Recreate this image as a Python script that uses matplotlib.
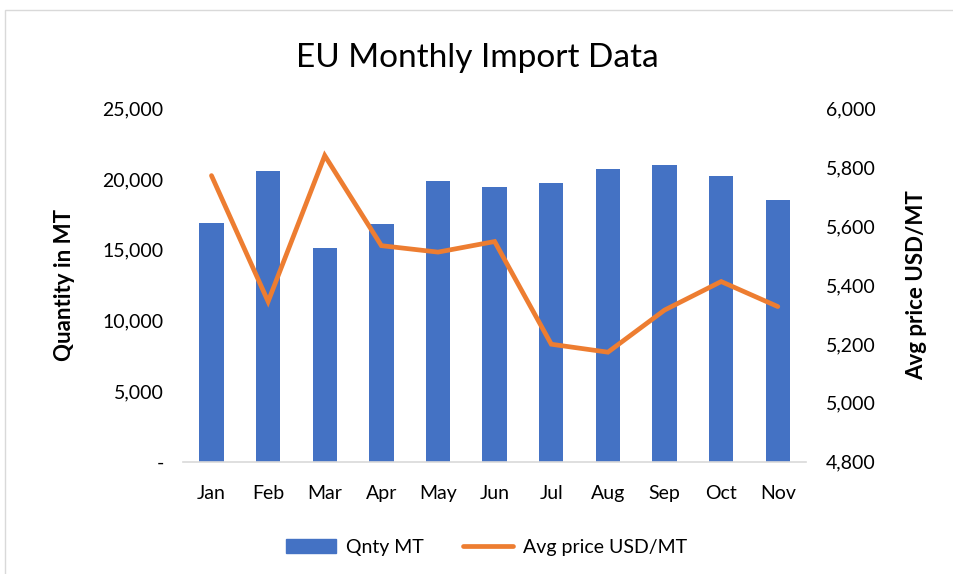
#!/usr/bin/env python

import matplotlib.pyplot as plt
from matplotlib.patches import Rectangle
from matplotlib.lines import Line2D

plt.rcParams['font.family'] = ['Lato', 'DejaVu Sans']

# Data
months = ["Jan", "Feb", "Mar", "Apr", "May", "Jun", "Jul", "Aug", "Sep", "Oct", "Nov"]
qnty_mt = [16900, 20600, 15100, 16800, 19900, 19450, 19700, 20700, 21000, 20200, 18550]
avg_price = [5772, 5344, 5840, 5534, 5512, 5548, 5199, 5172, 5315, 5412, 5327]

left_ticks = [0, 5000, 10000, 15000, 20000, 25000]
left_labels = ["-", "5,000", "10,000", "15,000", "20,000", "25,000"]
right_ticks = [4800, 5000, 5200, 5400, 5600, 5800, 6000]
right_labels = ["4,800", "5,000", "5,200", "5,400", "5,600", "5,800", "6,000"]

bar_color = "#4472C4"
line_color = "#ED7D31"
text_color = "#000000"

fig = plt.figure(figsize=(9.54, 5.74), dpi=100)
ax = fig.add_axes([0.192, 0.1957, 0.653, 0.6153])

# chart border like the office frame
fig.patches.append(Rectangle((5 / 954, -0.01), 1.0, 1 - 10 / 574 + 0.01,
                             transform=fig.transFigure, fill=False,
                             edgecolor="#d9d9d9", linewidth=1.0))

x = list(range(len(months)))
ax.bar(x, qnty_mt, width=0.43, color=bar_color, zorder=2)
ax.set_xlim(-0.5, len(months) - 0.5)
ax.set_ylim(0, 25000)
ax.set_yticks(left_ticks)
ax.set_yticklabels(left_labels)
ax.set_xticks(x)
ax.set_xticklabels(months)
ax.tick_params(axis='both', length=0, labelsize=14, colors=text_color)
ax.tick_params(axis='y', pad=14)
ax.tick_params(axis='x', pad=17)
for s in ['top', 'right', 'left']:
    ax.spines[s].set_visible(False)
ax.spines['bottom'].set_color("#d9d9d9")
ax.spines['bottom'].set_linewidth(1.2)
ax.set_ylabel("Quantity in MT", fontsize=16, fontweight='bold', labelpad=20)

ax2 = ax.twinx()
ax2.plot(x, avg_price, color=line_color, linewidth=3.4, solid_capstyle='round',
         solid_joinstyle='miter', zorder=3)
ax2.set_ylim(4800, 6000)
ax2.set_yticks(right_ticks)
ax2.set_yticklabels(right_labels)
ax2.tick_params(axis='y', length=0, labelsize=14, pad=14, colors=text_color)
for s in ['top', 'right', 'left', 'bottom']:
    ax2.spines[s].set_visible(False)
ax2.set_ylabel("Avg price USD/MT", fontsize=16, fontweight='bold', labelpad=22)

fig.suptitle("EU Monthly Import Data", fontsize=24, y=0.925)

handles = [Rectangle((0, 0), 1, 1, color=bar_color),
           Line2D([0], [0], color=line_color, linewidth=3.4, solid_capstyle='round')]
fig.legend(handles, ["Qnty MT", "Avg price USD/MT"], loc='center',
           bbox_to_anchor=(0.51, 0.047), ncol=2, frameon=False, fontsize=14,
           handlelength=2.6, handletextpad=0.5, columnspacing=2.0)

fig.savefig("out.png", dpi=100)
